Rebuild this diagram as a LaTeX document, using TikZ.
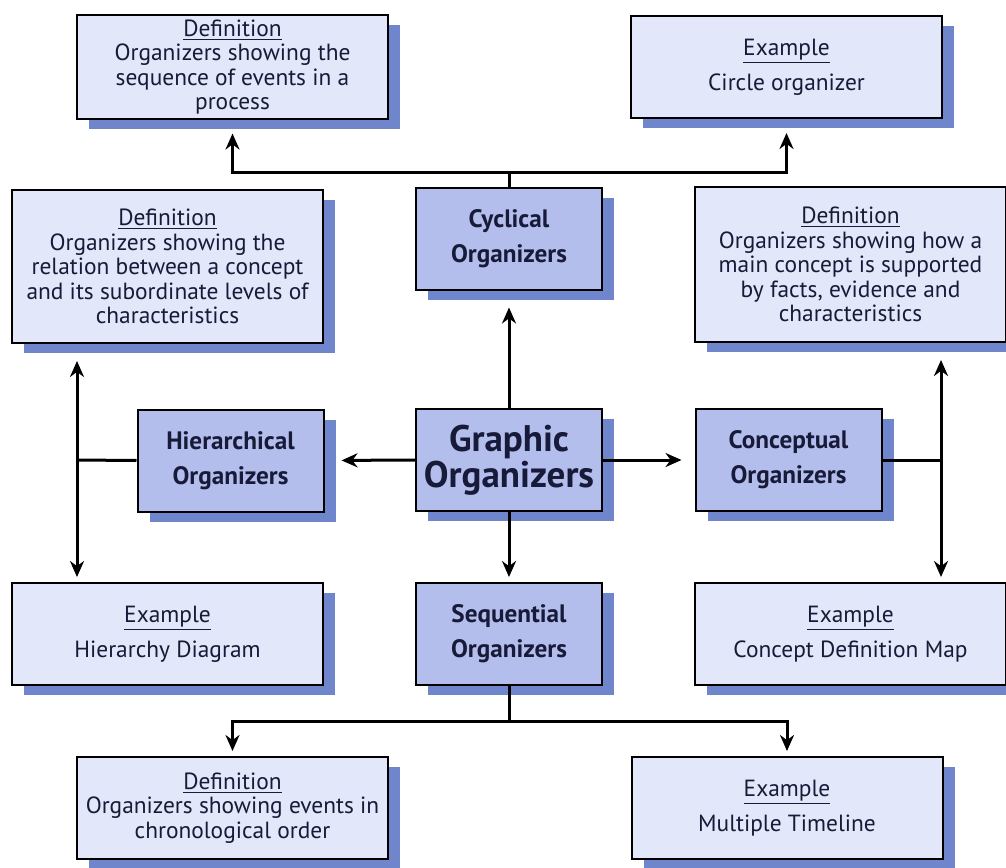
\documentclass[tikz,border=0pt]{standalone}
\usepackage{fontspec}
\setmainfont{PT Sans}
\usetikzlibrary{arrows.meta,shadows,positioning}
\definecolor{orgtext}{HTML}{171A38}
\definecolor{orglight}{HTML}{E2E7F9}
\definecolor{orgmain}{HTML}{B4BEEC}
\definecolor{orgshadow}{HTML}{6F86CC}
\tikzset{%
  orgbox/.style={%
    draw=black,
    line width=1pt,
    fill=orglight,
    general shadow={fill=orgshadow,shadow xshift=6pt,shadow yshift=-5pt},
    minimum width=155.5pt,
    minimum height=51pt,
    inner sep=2pt,
    align=center,
    text=orgtext,
    font=\fontsize{11.7}{12.3}\selectfont
  },
  orgtype/.style={%
    orgbox,
    fill=orgmain,
    minimum width=93pt,
    font=\fontsize{12.6}{17.5}\selectfont\bfseries
  },
  orgmaster/.style={%
    orgtype,
    font=\fontsize{18.5}{14.5}\selectfont\bfseries
  },
  orgline/.style={line width=1.5pt,draw=black},
  orgarrow/.style={-{Stealth[length=8pt,width=7pt]},line width=1.5pt,draw=black}
}
\begin{document}
\begin{tikzpicture}[x=0.5pt,y=-0.5pt]
    \useasboundingbox (0,0) rectangle (1006,867);
    % centre column
    \node[orgmaster] (graphic) at (509,460) {Graphic\\Organizers};
    \node[orgtype] (cyc) at (509,238.5) {Cyclical\\Organizers};
    \node[orgtype] (hier) at (230.5,460.5) {Hierarchical\\Organizers};
    \node[orgtype] (conc) at (788.5,460) {Conceptual\\Organizers};
    \node[orgtype] (seq) at (509,634) {Sequential\\Organizers};
    % definitions and examples
    \node[orgbox] (defcyc) at (232.5,67) {\underline{Definition}\\Organizers showing the\\sequence of events in a\\process};
    \node[orgbox] (excyc) at (786.5,67) {\underline{Example}\\[4pt]Circle organizer};
    \node[orgbox,minimum height=76.5pt] (defhier) at (167.5,266.5) {\underline{Definition}\\Organizers showing the\\relation between a concept\\and its subordinate levels of\\characteristics};
    \node[orgbox,minimum height=77.5pt] (defconc) at (850.5,264.5) {\underline{Definition}\\Organizers showing how a\\main concept is supported\\by facts, evidence and\\characteristics};
    \node[orgbox] (exhier) at (167.5,634) {\underline{Example}\\[4pt]Hierarchy Diagram};
    \node[orgbox] (exconc) at (850.5,634) {\underline{Example}\\[4pt]Concept Definition Map};
    \node[orgbox] (defseq) at (232.5,808) {\underline{Definition}\\Organizers showing events in\\chronological order};
    \node[orgbox] (exseq) at (787,808) {\underline{Example}\\[4pt]Multiple Timeline};

    \coordinate (cycjoin) at (509,172);
    \coordinate (hierjoin) at (77,460);
    \coordinate (concjoin) at (941,460);
    \coordinate (seqjoin) at (509,721);

    \draw[orgarrow,shorten >=8.5pt] (graphic.north) -- (cyc.south);
    \draw[orgarrow,shorten >=2.5pt] (graphic.south) -- (seq.north);
    \draw[orgarrow,shorten >=8.5pt] (graphic.west) -- (hier.east);
    \draw[orgarrow,shorten >=6.5pt] (graphic.east) -- (conc.west);

    \draw[orgline] (cyc.north) -- (cycjoin);
    \draw[orgarrow,shorten >=7pt] (cycjoin) -| (defcyc.south);
    \draw[orgarrow,shorten >=7pt] (cycjoin) -| (excyc.south);

    \draw[orgline] (hier.west) -- (hierjoin);
    \draw[orgarrow,shorten >=8.5pt] (hierjoin) -- (hierjoin |- defhier.south);
    \draw[orgarrow,shorten >=2.5pt] (hierjoin) -- (hierjoin |- exhier.north);

    \draw[orgline] (conc.east) -- (concjoin);
    \draw[orgarrow,shorten >=8.5pt] (concjoin) -- (concjoin |- defconc.south);
    \draw[orgarrow,shorten >=2.5pt] (concjoin) -- (concjoin |- exconc.north);

    \draw[orgline] (seq.south) -- (seqjoin);
    \draw[orgarrow,shorten >=2.5pt] (seqjoin) -| (defseq.north);
    \draw[orgarrow,shorten >=2.5pt] (seqjoin) -| (exseq.north);
  \end{tikzpicture}
\end{document}
